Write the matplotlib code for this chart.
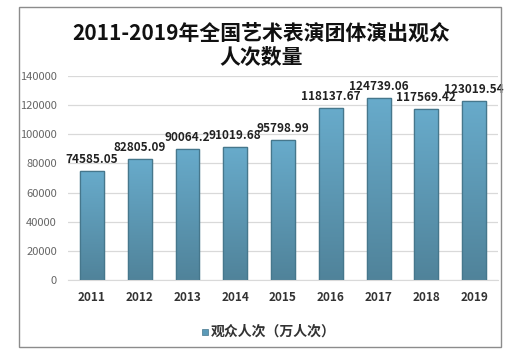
import matplotlib
matplotlib.use("Agg")
import matplotlib.pyplot as plt
import numpy as np
from matplotlib.patches import Rectangle
from matplotlib.colors import LinearSegmentedColormap

plt.rcParams['font.family'] = ['Noto Sans CJK SC', 'DejaVu Sans']

years = ["2011", "2012", "2013", "2014", "2015", "2016", "2017", "2018", "2019"]
audience = [74585.05, 82805.09, 90064.2, 91019.68, 95798.99,
            118137.67, 124739.06, 117569.42, 123019.54]
value_labels = ["74585.05", "82805.09", "90064.2", "91019.68", "95798.99",
                "118137.67", "124739.06", "117569.42", "123019.54"]
series_name = "观众人次（万人次）"
title = "2011-2019年全国艺术表演团体演出观众\n人次数量"

W, H = 516, 356
fig = plt.figure(figsize=(W / 100, H / 100), dpi=100)
fig.patch.set_facecolor("white")

# outer frame
fig.add_artist(Rectangle((19 / W, 1 - 347 / H), (501 - 19) / W, (347 - 7) / H,
                         transform=fig.transFigure, fill=False, ec="#8c8c8c", lw=1))

ax = fig.add_axes([68 / W, 1 - 280 / H, (498 - 68) / W, (280 - 76) / H])
x = np.arange(len(years))
bars = ax.bar(x, audience, width=0.5, color="#5b9ab8", ec="#46778c", lw=0.9, zorder=2)

# vertical gradient fill on each bar
cmap = LinearSegmentedColormap.from_list("g", ["#50839a", "#68abcb"])
grad = np.linspace(0, 1, 256).reshape(-1, 1)
for b in bars:
    im = ax.imshow(grad, cmap=cmap, aspect="auto", origin="lower",
                   extent=[b.get_x(), b.get_x() + b.get_width(), 0, b.get_height()], zorder=2.5)
    im.set_clip_path(b)
    ax.add_patch(Rectangle((b.get_x(), 0), b.get_width(), b.get_height(), fill=False,
                           ec="#46778c", lw=0.9, zorder=3))

for xi, v, lab in zip(x, audience, value_labels):
    ax.text(xi, v + 3500, lab, ha="center", va="bottom", fontsize=8.5,
            fontweight="bold", color="#222222", zorder=4)

ax.set_xlim(-0.5, len(years) - 0.5)
ax.set_ylim(0, 140000)
ax.set_yticks(np.arange(0, 140001, 20000))
ax.yaxis.grid(True, color="#d9d9d9", lw=0.9, zorder=0)
ax.set_axisbelow(True)
ax.tick_params(axis="y", length=0, labelsize=8, labelcolor="#666666", pad=8)
ax.tick_params(axis="x", length=0, labelsize=8.5, pad=8)
ax.set_xticks(x)
ax.set_xticklabels(years, fontweight="bold", color="#333333")
for s in ["top", "right", "left"]:
    ax.spines[s].set_visible(False)
ax.spines["bottom"].set_color("#d9d9d9")

fig.text(261 / W, 1 - 45 / H, title, ha="center", va="center", fontsize=15,
         fontweight="bold", color="#111111", linespacing=1.2)

# legend
fig.add_artist(Rectangle((202 / W, 1 - 335 / H), 6 / W, 6 / H, transform=fig.transFigure,
                         fc="#5b9ab8", ec="#46778c", lw=0.5))
fig.text(211 / W, 1 - 332 / H, series_name, ha="left", va="center", fontsize=10,
         fontweight="bold", color="#333333")

fig.savefig("out.png", dpi=100, facecolor="white")
